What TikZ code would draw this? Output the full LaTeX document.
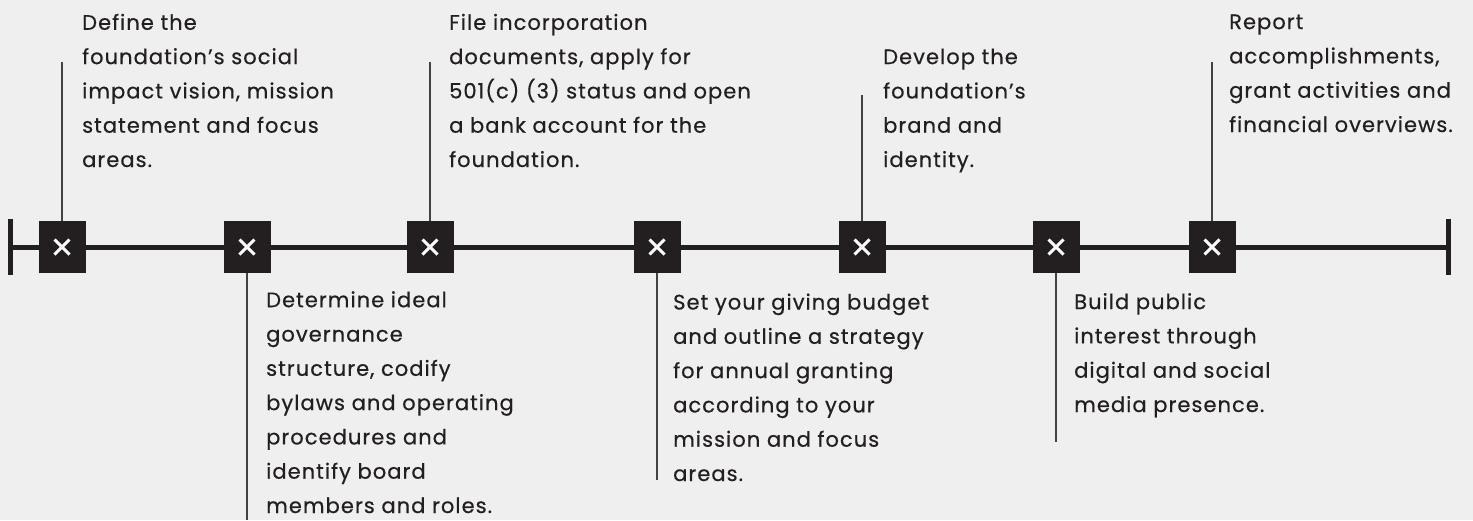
\documentclass[tikz,border=0pt]{standalone}
\usepackage{fontspec}
\setmainfont[LetterSpace=5, FakeBold=0.5]{Poppins}
\definecolor{ink}{HTML}{231F20}
\definecolor{paper}{HTML}{EFEFEF}
\tikzset{
  xbox/.style= {fill=ink, minimum width=47pt, minimum height=52pt, inner sep=0pt,
    path picture={\draw[white, line width=3pt]
      ([shift={(-7.5pt,-7.5pt)}]path picture bounding box.center) -- ([shift={(7.5pt,7.5pt)}]path picture bounding box.center)
      ([shift={(-7.5pt,7.5pt)}]path picture bounding box.center) -- ([shift={(7.5pt,-7.5pt)}]path picture bounding box.center);}},
  note/.style= {anchor=base west, align=left, inner sep=0pt, text=ink, font=\fontsize{21}{34.3}\selectfont},
  stem/.style= {draw=ink!85, line width=1.4pt},
  axis/.style= {draw=ink, line width=5pt},
}

\begin{document}
\begin{tikzpicture}[x=1pt, y=-1pt]
  \fill[paper] (0,0) rectangle (1473,520);
  \useasboundingbox (0,0) rectangle (1473,520);

  % timeline
  \coordinate (lend) at (10,247) ;
  \coordinate (rend) at (1448,247) ;
  \draw[axis] (lend) -- (rend) ;
  \draw[axis] (10,219) -- (10,275) ;
  \draw[axis] (1448,219) -- (1448,275) ;

  \node [xbox] (m1) at (62,247) {} ;
  \node [xbox] (m2) at (247,247) {} ;
  \node [xbox] (m3) at (430,247) {} ;
  \node [xbox] (m4) at (657,247) {} ;
  \node [xbox] (m5) at (862,247) {} ;
  \node [xbox] (m6) at (1056,247) {} ;
  \node [xbox] (m7) at (1212,247) {} ;

  % stem ends
  \coordinate (c1) at (62,62) ;
  \coordinate (c2) at (247,520) ;
  \coordinate (c3) at (430,62) ;
  \coordinate (c4) at (657,480) ;
  \coordinate (c5) at (862,95) ;
  \coordinate (c6) at (1056,442) ;
  \coordinate (c7) at (1212,62) ;

  \foreach \i in {1,3,5,7} \draw[stem] (m\i.north) -- (c\i) ;
  \foreach \i in {2,4,6} \draw[stem] (m\i.south) -- (c\i) ;

  % notes (placed at the baseline of their last line)
  \node [note] (t1) at (82,167) {Define the\\foundation’s social\\impact vision, mission\\statement and focus\\areas.} ;
  \node [note] (t2) at (266,513) {Determine ideal\\governance\\structure, codify\\bylaws and operating\\procedures and\\identify board\\members and roles.} ;
  \node [note] (t3) at (449,167) {File incorporation\\documents, apply for\\501(c) (3) status and open\\a bank account for the\\foundation.} ;
  \node [note] (t4) at (673,481) {Set your giving budget\\and outline a strategy\\for annual granting\\according to your\\mission and focus\\areas.} ;
  \node [note] (t5) at (883,167) {Develop the\\foundation’s\\brand and\\identity.} ;
  \node [note] (t6) at (1074,412) {Build public\\interest through\\digital and social\\media presence.} ;
  \node [note] (t7) at (1229,132) {Report\\accomplishments,\\grant activities and\\financial overviews.} ;
\end{tikzpicture}
\end{document}
